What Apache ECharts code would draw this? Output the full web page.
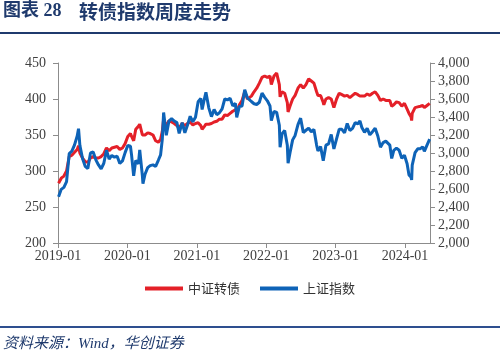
<!DOCTYPE html>
<html>
<head>
<meta charset="utf-8">
<script src="https://cdn.jsdelivr.net/npm/echarts@6/dist/echarts.min.js"></script>
<style>html,body{margin:0;padding:0;background:#fff;}#c{width:500px;height:359px;}</style>
</head>
<body>
<div id="c"></div>
<script>
// Sample dates (roughly bi-weekly)
var dates = [
'2019-01-04','2019-01-18','2019-02-01','2019-02-15','2019-03-01','2019-03-15','2019-03-29','2019-04-12','2019-04-19','2019-04-26',
'2019-05-10','2019-05-24','2019-06-07','2019-06-21','2019-07-05','2019-07-19','2019-08-02','2019-08-16','2019-08-30','2019-09-13',
'2019-09-27','2019-10-11','2019-10-25','2019-11-08','2019-11-22','2019-12-06','2019-12-20',
'2020-01-03','2020-01-17','2020-01-23','2020-02-03','2020-02-14','2020-02-28','2020-03-06','2020-03-20','2020-03-23','2020-04-03',
'2020-04-17','2020-04-30','2020-05-15','2020-05-29','2020-06-12','2020-06-24','2020-07-03','2020-07-10','2020-07-24','2020-08-07',
'2020-08-21','2020-09-04','2020-09-18','2020-09-30','2020-10-16','2020-10-30','2020-11-13','2020-11-27','2020-12-11','2020-12-25',
'2021-01-08','2021-01-22','2021-01-29','2021-02-10','2021-02-18','2021-03-05','2021-03-19','2021-04-02','2021-04-16','2021-04-30',
'2021-05-14','2021-05-28','2021-06-11','2021-06-25','2021-07-09','2021-07-23','2021-07-30','2021-08-13','2021-08-27','2021-09-10',
'2021-09-24','2021-10-15','2021-10-29','2021-11-12','2021-11-26','2021-12-10','2021-12-24',
'2022-01-07','2022-01-21','2022-01-28','2022-02-11','2022-02-25','2022-03-11','2022-03-15','2022-03-25','2022-04-08','2022-04-22',
'2022-04-26','2022-05-06','2022-05-20','2022-06-02','2022-06-17','2022-07-01','2022-07-15','2022-07-29','2022-08-12','2022-08-26',
'2022-09-09','2022-09-23','2022-09-30','2022-10-14','2022-10-28','2022-10-31','2022-11-11','2022-11-25','2022-12-09','2022-12-23',
'2023-01-06','2023-01-20','2023-02-03','2023-02-17','2023-03-03','2023-03-17','2023-03-31','2023-04-14','2023-04-28','2023-05-09',
'2023-05-19','2023-06-02','2023-06-16','2023-06-30','2023-07-14','2023-07-28','2023-08-11','2023-08-25','2023-09-08','2023-09-22',
'2023-10-13','2023-10-23','2023-11-03','2023-11-17','2023-12-01','2023-12-15','2023-12-29',
'2024-01-12','2024-01-22','2024-02-02','2024-02-05','2024-02-08','2024-02-23','2024-03-08','2024-03-22','2024-04-03','2024-04-12',
'2024-04-26','2024-05-10'
];
// 中证转债 (left axis)
var cbIndex = [
283,290,293,300,320,322,326,330,335,325,
318,313,312,318,320,318,318,320,324,332,
328,332,333,334,330,332,338,
348,352,348,342,358,362,365,350,348,350,
353,352,350,342,340,344,355,372,362,370,
368,366,363,360,366,363,366,368,364,366,
367,363,358,362,365,365,366,368,369,372,
372,378,377,380,383,385,382,392,398,410,
400,404,410,415,422,430,432,
430,432,420,432,436,420,403,410,408,395,
382,390,400,405,415,420,415,420,428,425,
422,410,405,405,395,392,400,402,400,388,
400,408,406,404,405,402,405,408,406,404,
403,404,407,405,408,410,405,398,400,398,
398,390,392,396,395,390,394,
386,380,375,370,380,388,389,390,391,388,
391,394
];
// 上证指数 (right axis)
var sseIndex = [
2514,2596,2618,2682,2994,3021,3090,3189,3270,3086,
2939,2852,2827,3001,3011,2924,2867,2824,2886,3031,
2932,2973,2954,2964,2885,2912,3004,
3083,3075,2976,2746,2917,2880,3034,2745,2660,2764,
2838,2860,2868,2852,2919,2979,3152,3450,3197,3354,
3381,3355,3338,3218,3336,3225,3310,3408,3347,3397,
3570,3606,3483,3603,3675,3502,3404,3484,3426,3447,
3490,3600,3590,3607,3524,3550,3397,3517,3522,3703,
3613,3572,3547,3539,3564,3666,3618,
3580,3522,3361,3462,3451,3309,3064,3212,3251,3087,
2887,3001,3146,3195,3316,3387,3228,3253,3276,3236,
3262,3088,3024,3071,2915,2893,3087,3101,3206,3045,
3157,3265,3263,3224,3328,3250,3273,3338,3323,3357,
3283,3230,3273,3202,3237,3276,3189,3064,3116,3132,
3088,2939,3030,3054,3031,2942,2975,
2881,2756,2730,2702,2866,3004,3046,3048,3069,3019,
3088,3155
];
var seriesNames = ['中证转债','上证指数'];
var leftTicks = [200, 450, 50];
var rightTicks = [2000, 4000, 200];
var xRange = [2019, 2024.36];

function toYear(s){
  var p = s.split('-');
  var y = +p[0];
  var t = Date.UTC(y, +p[1]-1, +p[2]);
  var a = Date.UTC(y,0,1), b = Date.UTC(y+1,0,1);
  return y + (t-a)/(b-a);
}
function pair(vals){ return dates.map(function(d,i){ return [toYear(d), vals[i]]; }); }

var chart = echarts.init(document.getElementById('c'));
var serif = '"Liberation Serif", "Times New Roman", serif';
var axisColor = '#8c8c8c';
var labelColor = '#404040';
chart.setOption({
  animation: false,
  backgroundColor: '#fff',
  graphic: [
    {type:'text', left: 3, top: 2, style:{text:'图表 28', font:'bold 18px "Liberation Serif", "Noto Sans CJK SC"', fill:'#1f3a6d'}},
    {type:'text', left: 79, top: 2, style:{text:'转债指数周度走势', font:'bold 19px "Noto Sans CJK SC"', fill:'#1f3a6d'}},
    {type:'rect', shape:{x:0, y:32, width:500, height:2}, style:{fill:'#1f3a6d'}},
    {type:'rect', shape:{x:0, y:326, width:500, height:2}, style:{fill:'#2e4f8f'}},
    {type:'text', left: 3, top: 337, style:{text:'资料来源：Wind，华创证券', font:'italic 15px "Liberation Serif", "Noto Sans CJK SC"', fill:'#1f3a6d'}}
  ],
  grid: {left: 58, right: 70, top: 63, bottom: 116},
  legend: {
    data: seriesNames,
    bottom: 59, left: 'center',
    icon: 'rect', itemWidth: 38, itemHeight: 4, itemGap: 20,
    textStyle: {fontFamily: '"Noto Sans CJK SC"', fontSize: 13, color: '#333'}
  },
  xAxis: {
    type: 'value', min: xRange[0], max: xRange[1], interval: 1,
    axisLine: {show: true, lineStyle: {color: axisColor}},
    axisTick: {show: true, length: 5, inside: false, lineStyle:{color: axisColor}},
    splitLine: {show: false},
    axisLabel: {
      color: labelColor, fontFamily: serif, fontSize: 14, margin: 6,
      showMaxLabel: false,
      formatter: function(v){ return Math.abs(v - Math.round(v)) < 1e-6 ? Math.round(v) + '-01' : ''; }
    }
  },
  yAxis: [
    {
      type: 'value', min: leftTicks[0], max: leftTicks[1], interval: leftTicks[2],
      axisLine: {show: true, lineStyle: {color: axisColor}},
      axisTick: {show: true, length: 5, lineStyle:{color: axisColor}},
      splitLine: {show: false},
      axisLabel: {color: labelColor, fontFamily: serif, fontSize: 14, margin: 12}
    },
    {
      type: 'value', min: rightTicks[0], max: rightTicks[1], interval: rightTicks[2], position: 'right',
      axisLine: {show: true, lineStyle: {color: axisColor}},
      axisTick: {show: true, length: 5, lineStyle:{color: axisColor}},
      splitLine: {show: false},
      axisLabel: {color: labelColor, fontFamily: serif, fontSize: 14, margin: 8,
        formatter: function(v){ return v.toLocaleString('en-US'); }}
    }
  ],
  series: [
    {name: seriesNames[0], type: 'line', yAxisIndex: 0, data: pair(cbIndex), showSymbol: false, symbol:'none',
     lineStyle: {color: '#e42028', width: 3}, itemStyle: {color: '#e42028'}, z: 2},
    {name: seriesNames[1], type: 'line', yAxisIndex: 1, data: pair(sseIndex), showSymbol: false, symbol:'none',
     lineStyle: {color: '#0e63b7', width: 3}, itemStyle: {color: '#0e63b7'}, z: 3}
  ]
});
</script>
</body>
</html>
